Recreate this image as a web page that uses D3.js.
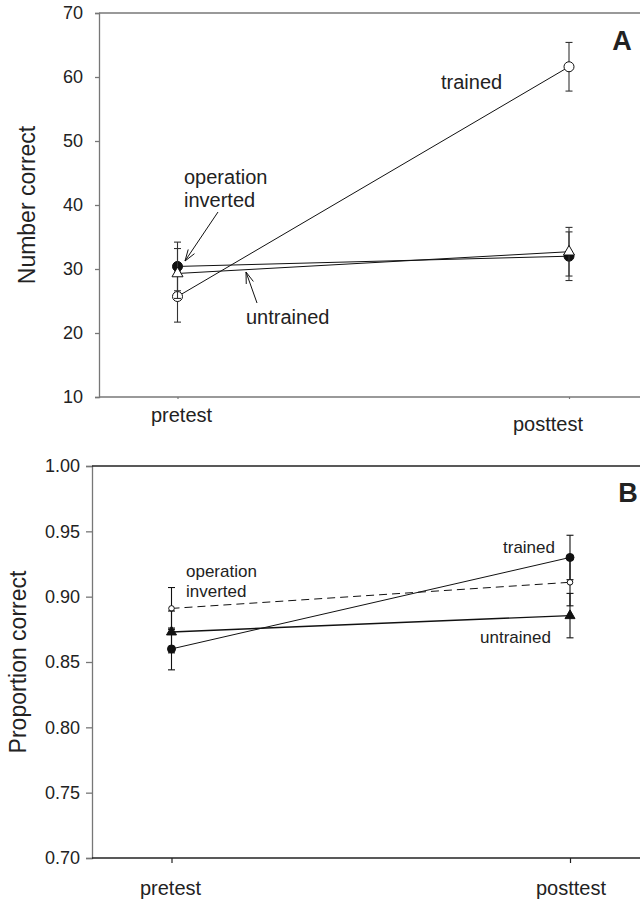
<!DOCTYPE html>
<html><head><meta charset="utf-8">
<script src="https://cdn.jsdelivr.net/npm/d3@7"></script>
<style>body{margin:0;background:#fff}svg{display:block}text{font-family:"Liberation Sans",Arial,sans-serif;fill:#222}</style>
</head><body>
<svg id="c" width="640" height="901"></svg>
<script>
const categories = ["pretest", "posttest"];
// Panel A: Number correct
const aTicks = [10, 20, 30, 40, 50, 60, 70];
const aTrained = [25.7, 61.6], aTrainedErr = [4.0, 3.8];
const aOpInv = [30.4, 32.0], aOpInvErr = [3.8, 3.8];
const aUntrained = [29.3, 32.7], aUntrainedErr = [3.9, 3.8];
// Panel B: Proportion correct
const bTicks = [0.70, 0.75, 0.80, 0.85, 0.90, 0.95, 1.00];
const bTrained = [0.860, 0.930], bTrainedErr = [0.016, 0.017];
const bOpInv = [0.891, 0.911], bOpInvErr = [0.016, 0.018];
const bUntrained = [0.873, 0.8855], bUntrainedErr = [0.016, 0.017];

const svg = d3.select("#c");

function panel(o) {
  const g = svg.append("g");
  const y = d3.scaleLinear().domain([o.ticks[0], o.ticks[o.ticks.length-1]]).range([o.bottom, o.top]);
  const x = d3.scalePoint().domain(categories).range(o.xr);
  // left axis
  const ya = g.append("g").attr("transform", `translate(${o.left},0)`)
    .call(d3.axisLeft(y).tickValues(o.ticks).tickFormat(o.fmt).tickSize(o.tl).tickPadding(o.pad));
  ya.select(".domain").attr("stroke", "#777").attr("stroke-width", 1.3);
  ya.selectAll(".tick line").attr("stroke", "#777").attr("stroke-width", 1.3);
  ya.selectAll(".tick text").style("font-size", "18px").attr("fill", "#222");
  // top line
  g.append("line").attr("x1", o.left).attr("x2", 640).attr("y1", o.top).attr("y2", o.top)
    .attr("stroke", o.frameColor).attr("stroke-width", 1.3);
  // bottom axis
  const xa = g.append("g").attr("transform", `translate(0,${o.bottom})`)
    .call(d3.axisBottom(x).tickSize(o.btl).tickSizeOuter(0).tickFormat(""));
  xa.select(".domain").attr("d", `M${o.left},0H640`).attr("stroke", o.frameColor).attr("stroke-width", 1.3);
  xa.selectAll(".tick line").attr("stroke", o.frameColor).attr("stroke-width", 1.2);
  categories.forEach((c, i) => {
    g.append("text").attr("x", x(c) + o.labDx[i]).attr("y", o.labY[i]).attr("text-anchor", "middle")
      .style("font-size", "20px").text(c);
  });
  // y title
  g.append("text").attr("transform", `translate(${o.titleX},${(o.top+o.bottom)/2}) rotate(-90)`)
    .attr("text-anchor", "middle").style("font-size", "23px").text(o.title);
  // panel letter
  g.append("text").attr("x", o.letterX).attr("y", o.top + o.letterDy).attr("text-anchor", "middle")
    .style("font-size", "27px").style("font-weight", "bold").attr("fill", "#111").text(o.letter);

  o.series.forEach(s => {
    const pts = categories.map((c, i) => ({cx: x(c), v: s.v[i], e: s.e[i]}));
    g.append("path").attr("d", d3.line().x(d => d.cx).y(d => y(d.v))(pts))
      .attr("fill", "none").attr("stroke", "#111").attr("stroke-width", s.lw || 1)
      .attr("stroke-dasharray", s.dash || null);
    pts.forEach(d => {
      const eg = g.append("g").attr("stroke", o.errColor).attr("stroke-width", 1.1);
      eg.append("line").attr("x1", d.cx).attr("x2", d.cx).attr("y1", y(d.v - d.e)).attr("y2", y(d.v + d.e));
      [d.v - d.e, d.v + d.e].forEach(vv => eg.append("line").attr("x1", d.cx - o.cap).attr("x2", d.cx + o.cap)
        .attr("y1", y(vv)).attr("y2", y(vv)));
      if (s.shape === "circle") {
        g.append("circle").attr("cx", d.cx).attr("cy", y(d.v)).attr("r", s.r)
          .attr("fill", s.fill).attr("stroke", "#111").attr("stroke-width", 1);
      } else {
        const r = s.r;
        g.append("path").attr("d", `M${d.cx},${y(d.v)-r*1.15}L${d.cx+r},${y(d.v)+r*0.6}L${d.cx-r},${y(d.v)+r*0.6}Z`)
          .attr("fill", s.fill).attr("stroke", "#111").attr("stroke-width", 1);
      }
    });
  });
  o.labels.forEach(l => {
    g.append("text").attr("x", l.x).attr("y", l.y).style("font-size", o.annSize).text(l.t);
  });
  (o.arrows || []).forEach(a => {
    const ang = Math.atan2(a.y2 - a.y1, a.x2 - a.x1), L = 12, sp = 0.32;
    g.append("line").attr("x1", a.x1).attr("y1", a.y1).attr("x2", a.x2).attr("y2", a.y2)
      .attr("stroke", "#111").attr("stroke-width", 1);
    g.append("path").attr("d", `M${a.x2 - L*Math.cos(ang - sp)},${a.y2 - L*Math.sin(ang - sp)}L${a.x2},${a.y2}L${a.x2 - L*Math.cos(ang + sp)},${a.y2 - L*Math.sin(ang + sp)}`)
      .attr("fill", "none").attr("stroke", "#111").attr("stroke-width", 1);
  });
}

panel({
  top: 13, bottom: 397, left: 99, xr: [177.5, 569], ticks: aTicks, fmt: d3.format("d"), tl: 4, pad: 12, btl: 2,
  frameColor: "#777", errColor: "#333", cap: 3.5,
  labDx: [4, -21], labY: [422, 431], title: "Number correct", titleX: 35,
  letter: "A", letterX: 622, letterDy: 37,
  series: [
    {v: aTrained, e: aTrainedErr, shape: "circle", r: 5, fill: "#fff"},
    {v: aOpInv, e: aOpInvErr, shape: "circle", r: 5, fill: "#111"},
    {v: aUntrained, e: aUntrainedErr, shape: "tri", r: 5.5, fill: "#fff"}
  ],
  annSize: "20px",
  labels: [{t: "trained", x: 441, y: 89}, {t: "operation", x: 184, y: 184}, {t: "inverted", x: 184, y: 207}, {t: "untrained", x: 246, y: 324}],
  arrows: [{x1: 218, y1: 212, x2: 185, y2: 261}, {x1: 257, y1: 303, x2: 246, y2: 272}]
});

panel({
  top: 466, bottom: 858, left: 92, xr: [171.5, 570], ticks: bTicks, fmt: d3.format(".2f"), tl: 6, pad: 6, btl: 5,
  frameColor: "#222", errColor: "#111", cap: 3.5,
  labDx: [-1, 1], labY: [895, 895], title: "Proportion correct", titleX: 26,
  letter: "B", letterX: 628, letterDy: 36,
  series: [
    {v: bTrained, e: bTrainedErr, shape: "circle", r: 4, fill: "#111"},
    {v: bOpInv, e: bOpInvErr, shape: "circle", r: 2.8, fill: "#fff", dash: "8,5"},
    {v: bUntrained, e: bUntrainedErr, shape: "tri", r: 5, fill: "#111", lw: 1.4}
  ],
  annSize: "17px",
  labels: [{t: "operation", x: 186, y: 577}, {t: "inverted", x: 186, y: 597}, {t: "trained", x: 503, y: 553}, {t: "untrained", x: 480, y: 643}]
});
</script>
</body></html>
